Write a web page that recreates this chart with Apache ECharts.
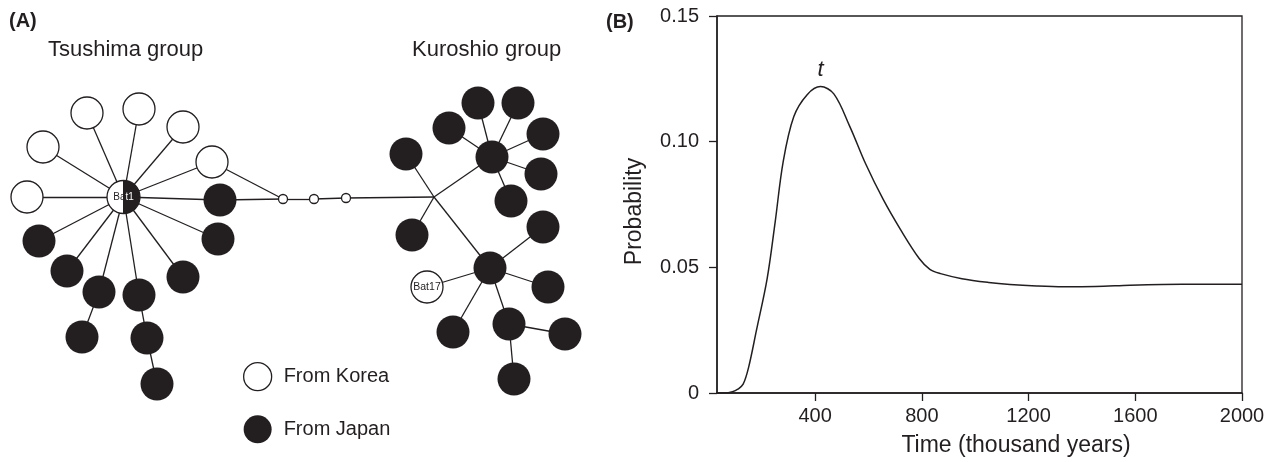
<!DOCTYPE html>
<html>
<head>
<meta charset="utf-8">
<script src="https://cdn.jsdelivr.net/npm/echarts@6/dist/echarts.min.js"></script>
<style>
  html, body { margin: 0; padding: 0; background: #fff; }
  #chart { width: 1268px; height: 462px; }
</style>
</head>
<body>
<div id="chart"></div>
<script>
// ---- panel B data: probability of the divergence time ----
const timeKyr = [32, 60, 90, 110, 130, 150, 180, 220, 250, 280, 320, 370, 420, 470, 530, 590, 655, 720, 790, 830, 870, 950, 1050, 1130, 1230, 1330, 1450, 1580, 1700, 1850, 2000]
const probability = [0, 0, 0.0005, 0.0015, 0.0035, 0.010, 0.025, 0.0455, 0.068, 0.092, 0.110, 0.1187, 0.1219, 0.119, 0.106, 0.091, 0.077, 0.065, 0.0535, 0.0492, 0.0475, 0.0455, 0.0440, 0.0432, 0.0426, 0.0423, 0.0424, 0.0429, 0.0432, 0.0433, 0.0433]
const timeTicks = [400, 800, 1200, 1600, 2000]

// ---- panel A data: haplotype network (layout units of the drawing) ----
const tsushimaKorea = [[27, 197], [43, 147], [87, 113], [139, 109], [183, 127], [212, 162]]
const tsushimaJapan = [[220, 200], [218, 239], [183, 277], [139, 295], [99, 292], [67, 271], [39, 241], [82, 337], [147, 338], [157, 384]]
const kuroshioJapan = [[492, 157], [449, 128], [478, 103], [518, 103], [543, 134], [541, 174], [511, 201], [406, 154], [412, 235], [490, 268], [543, 227], [548, 287], [453, 332], [509, 324], [565, 334], [514, 379]]
const missingHaplotypes = [[283, 199], [314, 199], [346, 198]]
const bat1Pos = [123.5, 197]
const bat17Pos = [427, 287]
const branchPoint = [434, 197]

const edges = [
  ['Bat1', 'TK0'], ['Bat1', 'TK1'], ['Bat1', 'TK2'], ['Bat1', 'TK3'], ['Bat1', 'TK4'], ['Bat1', 'TK5'],
  ['Bat1', 'TJ0'], ['Bat1', 'TJ1'], ['Bat1', 'TJ2'], ['Bat1', 'TJ3'], ['Bat1', 'TJ4'], ['Bat1', 'TJ5'], ['Bat1', 'TJ6'],
  ['TJ4', 'TJ7'], ['TJ3', 'TJ8'], ['TJ8', 'TJ9'],
  ['TK5', 'M0'], ['TJ0', 'M0'], ['M0', 'M1'], ['M1', 'M2'], ['M2', 'X'],
  ['X', 'KJ7'], ['X', 'KJ8'], ['X', 'KJ0'], ['X', 'KJ9'],
  ['KJ0', 'KJ1'], ['KJ0', 'KJ2'], ['KJ0', 'KJ3'], ['KJ0', 'KJ4'], ['KJ0', 'KJ5'], ['KJ0', 'KJ6'],
  ['KJ9', 'KJ10'], ['KJ9', 'KJ11'], ['KJ9', 'Bat17'], ['KJ9', 'KJ12'], ['KJ9', 'KJ13'],
  ['KJ13', 'KJ14'], ['KJ13', 'KJ15']
]

const INK = '#231f20'
const FONT = 'Liberation Sans, Arial, Helvetica, sans-serif'

const koreaStyle = { color: '#fff', borderColor: INK, borderWidth: 1.3 }
const japanStyle = { color: INK, borderColor: INK, borderWidth: 0 }

const makeNodes = () => {
  const nodes = []
  tsushimaKorea.forEach((p, i) => nodes.push({ name: 'TK' + i, value: p, category: 0, symbolSize: 32, itemStyle: koreaStyle }))
  tsushimaJapan.forEach((p, i) => nodes.push({ name: 'TJ' + i, value: p, category: 1, symbolSize: 33, itemStyle: japanStyle }))
  kuroshioJapan.forEach((p, i) => nodes.push({ name: 'KJ' + i, value: p, category: 1, symbolSize: 33, itemStyle: japanStyle }))
  missingHaplotypes.forEach((p, i) => nodes.push({ name: 'M' + i, value: p, symbolSize: 9, itemStyle: koreaStyle }))
  nodes.push({ name: 'X', value: branchPoint, symbolSize: 0, itemStyle: { opacity: 0 } })
  // Bat1 is shared: half white (Korea), half black (Japan)
  nodes.push({
    name: 'Bat1',
    value: bat1Pos,
    symbolSize: 33,
    itemStyle: {
      color: new echarts.graphic.LinearGradient(0, 0, 1, 0, [
        { offset: 0, color: '#fff' },
        { offset: 0.5, color: '#fff' },
        { offset: 0.5, color: INK },
        { offset: 1, color: INK }
      ]),
      borderColor: INK,
      borderWidth: 1.3
    },
    label: {
      show: true,
      position: 'inside',
      formatter: '{a|Ba}{b|t1}',
      rich: {
        a: { color: INK, fontSize: 10, fontFamily: FONT },
        b: { color: '#fff', fontSize: 10, fontFamily: FONT }
      }
    }
  })
  nodes.push({
    name: 'Bat17',
    value: bat17Pos,
    symbolSize: 32,
    itemStyle: koreaStyle,
    label: { show: true, position: 'inside', formatter: 'Bat17', color: INK, fontSize: 10.5, fontFamily: FONT }
  })
  return nodes
}

const chart = echarts.init(document.getElementById('chart'))

const option = {
  animation: false,
  backgroundColor: '#fff',
  textStyle: { fontFamily: FONT, color: INK },
  title: [
    { text: '(A)', left: 9, top: 11, padding: 0, textStyle: { fontSize: 20, fontWeight: 'bold', color: INK, fontFamily: FONT } },
    { text: '(B)', left: 606, top: 12, padding: 0, textStyle: { fontSize: 20, fontWeight: 'bold', color: INK, fontFamily: FONT } },
    { text: 'Tsushima group', left: 48, top: 39, padding: 0, textStyle: { fontSize: 22, fontWeight: 'normal', color: INK, fontFamily: FONT } },
    { text: 'Kuroshio group', left: 412, top: 39, padding: 0, textStyle: { fontSize: 22, fontWeight: 'normal', color: INK, fontFamily: FONT } }
  ],
  legend: {
    orient: 'vertical',
    left: 238,
    top: 357,
    itemWidth: 28,
    itemHeight: 28,
    itemGap: 24,
    icon: 'circle',
    selectedMode: false,
    textStyle: { fontSize: 20, color: INK, fontFamily: FONT, padding: [0, 0, 0, 7] },
    data: [
      { name: 'From Korea', itemStyle: koreaStyle },
      { name: 'From Japan', itemStyle: japanStyle }
    ]
  },
  grid: [
    {
      left: 717, top: 16, right: 26, bottom: 67,
      show: true, borderColor: INK, borderWidth: 1.3, backgroundColor: 'transparent'
    },
    { left: 0, top: 0, width: 600, height: 462 }
  ],
  xAxis: [
    {
      type: 'value',
      gridIndex: 0,
      min: 32,
      max: 2000,
      name: 'Time (thousand years)',
      nameLocation: 'middle',
      nameGap: 41,
      nameTextStyle: { fontSize: 23, color: INK, fontFamily: FONT, padding: [0, 0, 0, 73] },
      axisLine: { show: true, lineStyle: { color: INK, width: 1.5 } },
      axisTick: { show: true, inside: false, length: 8, customValues: timeTicks, lineStyle: { color: INK, width: 1.3 } },
      axisLabel: {
        customValues: timeTicks,
        margin: 13,
        fontSize: 20,
        color: INK,
        fontFamily: FONT,
        formatter: (v) => String(v)
      },
      splitLine: { show: false }
    },
    { type: 'value', gridIndex: 1, min: 0, max: 600, show: false }
  ],
  yAxis: [
    {
      type: 'value',
      gridIndex: 0,
      min: 0,
      max: 0.15,
      interval: 0.05,
      name: 'Probability',
      nameLocation: 'middle',
      nameGap: 71,
      nameTextStyle: { fontSize: 23, color: INK, fontFamily: FONT, padding: [0, 14, 0, 0] },
      axisLine: { show: true, lineStyle: { color: INK, width: 1.5 } },
      axisTick: { show: true, inside: false, length: 8, lineStyle: { color: INK, width: 1.3 } },
      axisLabel: {
        margin: 18,
        fontSize: 20,
        color: INK,
        fontFamily: FONT,
        formatter: (v) => (v === 0 ? '0' : v.toFixed(2))
      },
      splitLine: { show: false }
    },
    { type: 'value', gridIndex: 1, min: 0, max: 462, inverse: true, show: false }
  ],
  series: [
    {
      name: 'Probability',
      type: 'line',
      xAxisIndex: 0,
      yAxisIndex: 0,
      data: timeKyr.map((t, i) => [t, probability[i]]),
      smooth: 0.35,
      showSymbol: false,
      symbol: 'none',
      lineStyle: { color: INK, width: 1.5 },
      markPoint: {
        symbol: 'circle',
        symbolSize: 0,
        data: [{ type: 'max' }],
        label: {
          show: true,
          position: 'top',
          distance: 6,
          formatter: 't',
          fontStyle: 'italic',
          fontSize: 22,
          color: INK,
          fontFamily: FONT
        }
      }
    },
    {
      type: 'graph',
      coordinateSystem: 'cartesian2d',
      xAxisIndex: 1,
      yAxisIndex: 1,
      silent: true,
      categories: [
        { name: 'From Korea', itemStyle: koreaStyle },
        { name: 'From Japan', itemStyle: japanStyle }
      ],
      symbol: 'circle',
      data: makeNodes(),
      links: edges.map(([s, t]) => ({ source: s, target: t })),
      lineStyle: { color: INK, width: 1.3, opacity: 1, curveness: 0 },
      label: { show: false },
      emphasis: { disabled: true }
    }
  ]
}

chart.setOption(option)
</script>
</body>
</html>
